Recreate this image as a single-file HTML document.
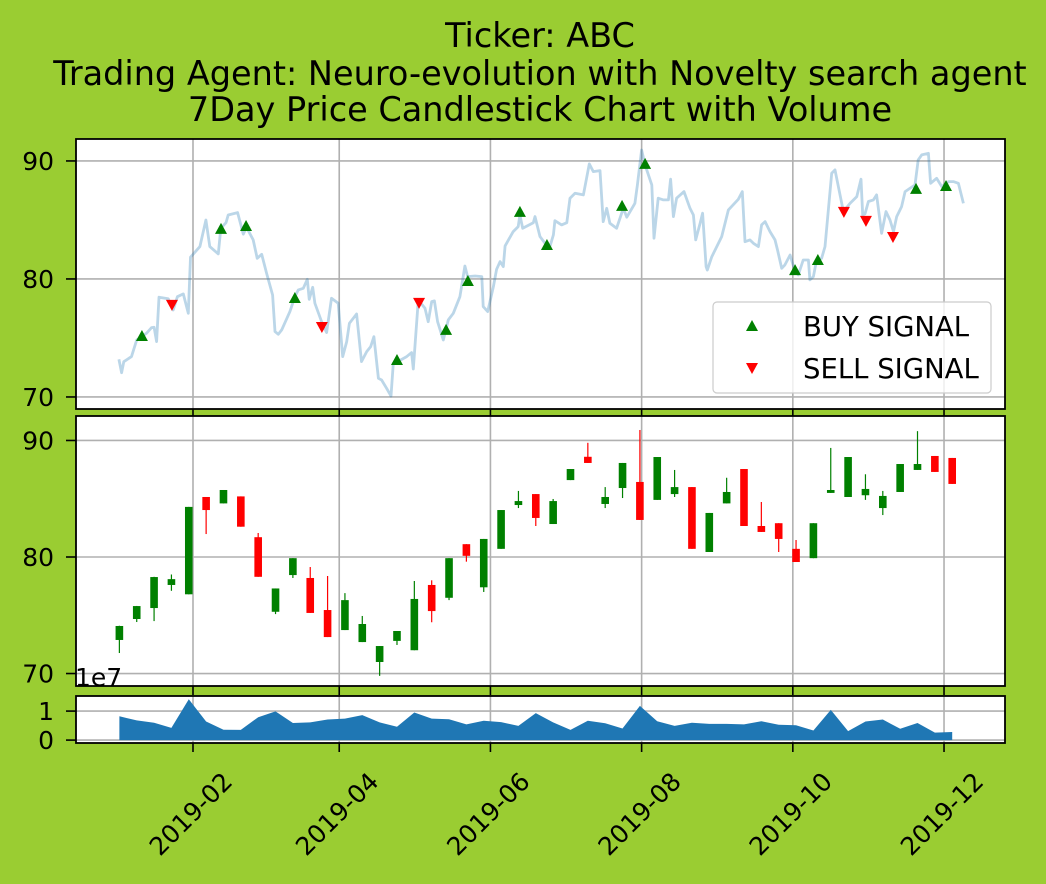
<!DOCTYPE html>
<html><head><meta charset="utf-8"><style>
body{margin:0;background:#9acd32;}
svg{display:block;font-family:"DejaVu Sans","Liberation Sans",sans-serif;}
</style></head><body>
<svg id="fig" width="1046" height="884" viewBox="0 0 1046 884" xmlns="http://www.w3.org/2000/svg">
<rect width="1046" height="884" fill="#9acd32"/>
<g font-size="33.5" text-anchor="middle" fill="#000">
<text x="540" y="47">Ticker: ABC</text>
<text x="540" y="85">Trading Agent: Neuro-evolution with Novelty search agent</text>
<text x="540" y="121">7Day Price Candlestick Chart with Volume</text>
</g>
<g id="g"></g>
</svg>
<script>
// ---- data ----
const lineDays=[1.1,2.2,3.1,6.2,8.3,12.3,14.3,15.3,16.3,17.3,21.0,23.0,24.7,27.1,29.1,30.0,33.8,36.2,37.8,41.2,42.2,44.3,45.2,49.0,51.3,52.6,55.3,56.9,58.7,60.7,63.1,64.1,65.4,66.8,70.1,72.1,73.5,75.5,77.1,77.9,79.3,80.2,82.9,84.9,86.9,89.6,91.4,93.0,94.1,97.0,99.0,101.1,102.7,104.0,105.8,107.1,109.1,110.9,111.8,113.6,117.2,119.2,119.9,121.9,124.6,125.9,127.3,128.4,129.7,132.0,134.0,136.0,138.7,140.7,141.8,144.8,147.5,148.1,149.9,152.2,153.5,154.9,156.2,156.9,160.2,162.2,162.9,164.0,168.3,169.0,171.0,173.0,175.0,176.4,177.0,179.7,181.8,183.1,185.1,188.5,190.9,192.5,195.2,196.5,197.9,199.2,201.9,204.6,206.0,209.3,210.3,212.0,213.4,216.1,217.0,218.7,220.8,222.8,223.7,224.8,226.1,229.1,231.5,232.9,233.8,235.6,236.6,238.0,238.5,240.3,244.3,247.0,251.0,252.6,253.7,255.7,257.1,259.1,260.4,261.8,263.8,265.8,266.8,268.5,269.8,271.9,273.9,275.2,277.2,279.3,279.9,281.3,282.6,284.6,286.0,288.7,290.0,293.4,296.1,298.8,300.5,301.2,302.1,303.5,305.5,306.8,308.8,310.6,312.2,313.6,314.9,316.9,318.3,322.3,323.6,325.0,327.7,328.6,331.0,333.1,335.8,337.8,339.8,341.8];
const linePrices=[73.19,72.06,72.99,73.42,74.83,75.40,75.88,75.90,74.69,78.45,78.33,77.37,78.50,78.73,77.09,81.84,82.74,85.00,82.74,82.12,84.29,84.77,85.42,85.62,83.79,84.38,83.31,81.75,82.09,80.48,78.64,75.54,75.31,75.68,77.23,78.50,79.07,79.21,79.97,78.28,79.29,77.94,76.38,75.45,78.36,77.94,73.42,74.69,76.24,77.03,73.0,73.84,74.27,75.11,71.58,71.44,70.73,70.08,72.85,73.0,73.42,73.76,72.37,78.22,77.51,76.38,78.08,78.14,76.38,74.83,76.53,77.09,78.50,81.10,80.20,80.25,80.20,77.66,77.23,79.35,80.82,81.47,81.05,82.80,84.01,84.44,85.42,84.29,84.77,85.28,83.59,83.02,82.74,83.73,84.94,84.58,84.77,86.84,87.26,87.12,89.75,89.10,89.18,84.86,85.99,84.72,84.29,85.99,85.23,86.41,87.97,90.93,89.66,87.97,83.45,86.84,86.70,86.70,88.45,85.28,86.84,87.40,85.99,85.42,83.31,84.72,85.57,81.05,80.76,81.89,83.59,85.85,86.75,87.40,83.16,83.31,83.02,82.74,84.58,84.86,84.01,83.31,82.46,80.90,81.19,82.03,80.62,80.34,81.61,81.61,79.92,80.20,81.61,81.75,82.74,88.96,89.24,85.71,86.41,86.98,88.45,85.42,85.51,86.56,86.70,87.12,83.87,85.71,85.0,84.01,85.28,86.13,87.40,87.97,90.09,90.51,90.65,88.11,88.53,87.83,88.25,88.25,88.11,86.41];
const buyDays=[10.4,42.3,52.4,72.1,113.3,133.1,141.9,162.9,173.8,204.1,213.4,273.9,283.1,322.7,334.8];
const buyPrices=[75.17,84.24,84.49,78.39,73.13,75.68,79.83,85.68,82.88,86.19,89.75,80.75,81.61,87.63,87.88];
const sellDays=[22.5,83.0,122.2,293.6,302.5,313.4];
const sellPrices=[77.80,75.93,77.97,85.68,84.92,83.56];
const candleStart=1.3, candleStep=7;
const opens =[72.88,74.68,75.62,77.6,76.8,85.15,84.6,85.2,81.7,75.3,78.45,78.2,75.45,73.73,72.7,70.99,72.8,72.0,77.6,76.5,81.1,77.4,80.7,84.46,85.4,82.83,86.6,88.6,84.55,85.92,86.44,84.9,85.4,86.0,80.43,84.6,87.55,82.66,82.9,80.7,79.9,85.5,85.15,85.3,84.2,85.58,87.47,88.67,88.5];
const closes=[74.08,75.79,78.28,78.1,84.3,84.03,85.75,82.6,78.3,77.3,79.9,75.2,73.13,76.3,74.25,72.36,73.65,76.4,75.36,79.9,80.1,81.55,84.03,84.8,83.35,84.8,87.55,88.07,85.15,88.07,83.18,88.58,86.0,80.7,83.78,85.58,82.66,82.15,81.55,79.57,82.9,85.75,88.58,85.84,85.24,87.98,87.98,87.3,86.27];
const highs =[74.1,75.8,78.3,78.5,84.3,85.15,85.75,85.2,82.06,77.3,79.9,79.14,78.37,76.9,74.94,72.36,73.65,77.94,78.0,79.9,81.1,81.55,84.03,85.67,85.4,84.98,87.55,89.8,86.0,88.07,90.9,88.58,87.47,86.0,83.78,86.8,87.55,84.72,82.9,81.46,82.9,89.36,88.58,87.1,85.67,87.98,90.8,88.67,88.5];
const lows  =[71.76,74.42,74.5,77.1,76.8,81.97,84.6,82.6,78.3,75.1,78.2,75.2,73.13,73.73,72.7,69.8,72.45,72.0,74.4,76.3,79.6,77.0,80.7,84.2,82.66,82.83,86.6,88.07,84.2,85.06,83.18,84.9,85.15,80.7,80.43,84.6,82.66,82.15,80.43,79.57,79.9,85.5,85.15,84.9,83.6,85.58,87.47,87.3,86.27];
const volumes=[0.82,0.68,0.6,0.42,1.41,0.64,0.36,0.35,0.79,0.99,0.59,0.61,0.71,0.74,0.86,0.61,0.46,0.95,0.74,0.72,0.54,0.67,0.62,0.49,0.93,0.61,0.35,0.67,0.58,0.4,1.18,0.65,0.49,0.6,0.56,0.56,0.54,0.65,0.53,0.51,0.33,1.04,0.31,0.64,0.71,0.39,0.59,0.26,0.28];
const priceTicks=[70,80,90], volTicks=[0,1];
const dateTickDays=[31,90,151,212,273,334];
const dateTickLabels=["2019-02","2019-04","2019-06","2019-08","2019-10","2019-12"];

// ---- layout / scales ----
const L=76,R=1005, dMin=-16.2, dMax=358.6;
const X=d=>L+(d-dMin)/(dMax-dMin)*(R-L);
const P1={t:139,b:409,lo:68.98,hi:91.86}, P2={t:416,b:686,lo:68.93,hi:92.10}, P3={t:696,b:743,lo:-0.1,hi:1.52};
const Y=(p,v)=>p.b-(v-p.lo)/(p.hi-p.lo)*(p.b-p.t);
const NS="http://www.w3.org/2000/svg", G=document.getElementById('g');
function mk(tag,at,parent){const e=document.createElementNS(NS,tag);for(const k in at)e.setAttribute(k,at[k]);(parent||G).appendChild(e);return e;}

function panel(p,name,ticks,tickFmt){
  const bg=mk('rect',{x:L,y:p.t,width:R-L,height:p.b-p.t,fill:'#fff'});
  
  
  dateTickDays.forEach(d=>{const l=mk('line',{x1:X(d),x2:X(d),y1:p.t,y2:p.b,stroke:'#b0b0b0','stroke-width':1.6});
    
    
    const tk=mk('line',{x1:X(d),x2:X(d),y1:p.b,y2:p.b+9,stroke:'#000','stroke-width':1.6});
    
    });
  ticks.forEach(v=>{const y=Y(p,v);
    const l=mk('line',{x1:L,x2:R,y1:y,y2:y,stroke:'#b0b0b0','stroke-width':1.6});
    
    
    const tk=mk('line',{x1:L-10,x2:L,y1:y,y2:y,stroke:'#000','stroke-width':1.6});
    
    
    const t=mk('text',{x:L-22,y:y+9,'font-size':25,'text-anchor':'end'});t.textContent=tickFmt(v);
    
    });
}
function frame(p,name){const f=mk('rect',{x:L,y:p.t,width:R-L,height:p.b-p.t,fill:'none',stroke:'#000','stroke-width':1.8});
  
  }

// top panel
panel(P1,'price-panel',priceTicks,v=>v);
const pts=lineDays.map((d,i)=>X(d).toFixed(1)+','+Y(P1,linePrices[i]).toFixed(1)).join(' ');
const pl=mk('polyline',{points:pts,fill:'none',stroke:'#1f77b4','stroke-opacity':0.3,'stroke-width':2.8,'stroke-linejoin':'round'});


buyDays.forEach((d,i)=>{const x=X(d),y=Y(P1,buyPrices[i]);
  const m=mk('polygon',{points:`${x},${y-6} ${x-6},${y+5} ${x+6},${y+5}`,fill:'green'});
  
  });
sellDays.forEach((d,i)=>{const x=X(d),y=Y(P1,sellPrices[i]);
  const m=mk('polygon',{points:`${x},${y+6} ${x-6},${y-5} ${x+6},${y-5}`,fill:'red'});
  
  });
frame(P1,'price-panel');

// middle panel candles
panel(P2,'candle-panel',priceTicks,v=>v);
opens.forEach((o,i)=>{const c=closes[i],x=X(candleStart+i*candleStep),col=c>=o?'green':'red';
  const w=mk('line',{x1:x,x2:x,y1:Y(P2,highs[i]),y2:Y(P2,lows[i]),stroke:col,'stroke-width':1.2});
  
  
  const yt=Y(P2,Math.max(o,c)),yb=Y(P2,Math.min(o,c));
  const b=mk('rect',{x:x-3.8,y:yt,width:7.6,height:Math.max(1.2,yb-yt),fill:col});
  
  });
frame(P2,'candle-panel');
const ex=mk('text',{x:75,y:686,'font-size':25});ex.textContent='1e7';



// volume panel
panel(P3,'volume-panel',volTicks,v=>v);
let vp=`${X(candleStart)},${Y(P3,0)} `+volumes.map((v,i)=>X(candleStart+i*candleStep).toFixed(1)+','+Y(P3,v).toFixed(1)).join(' ')+` ${X(candleStart+(volumes.length-1)*candleStep)},${Y(P3,0)}`;
const va=mk('polygon',{points:vp,fill:'#1f77b4'});


frame(P3,'volume-panel');

// x tick labels
dateTickDays.forEach((d,i)=>{const x=X(d)-2,y=814;
  const t=mk('text',{x:x,y:y,'font-size':25,'text-anchor':'middle','dominant-baseline':'central',transform:`rotate(-45 ${x} ${y})`});
  t.textContent=dateTickLabels[i];
  
  });

// legend
const lg=mk('g',{});


const lb=mk('rect',{x:713,y:302,width:278,height:91,rx:4,fill:'#fff','fill-opacity':0.8,stroke:'#ccc','stroke-width':1.2},lg);


const b1=mk('polygon',{points:'752,320 746,331 758,331',fill:'green'},lg);


const t1=mk('text',{x:803,y:336,'font-size':27.5},lg);t1.textContent='BUY SIGNAL';


const s1=mk('polygon',{points:'752,374 746,363 758,363',fill:'red'},lg);


const t2=mk('text',{x:803,y:378,'font-size':27.5},lg);t2.textContent='SELL SIGNAL';


</script>
</body></html>
